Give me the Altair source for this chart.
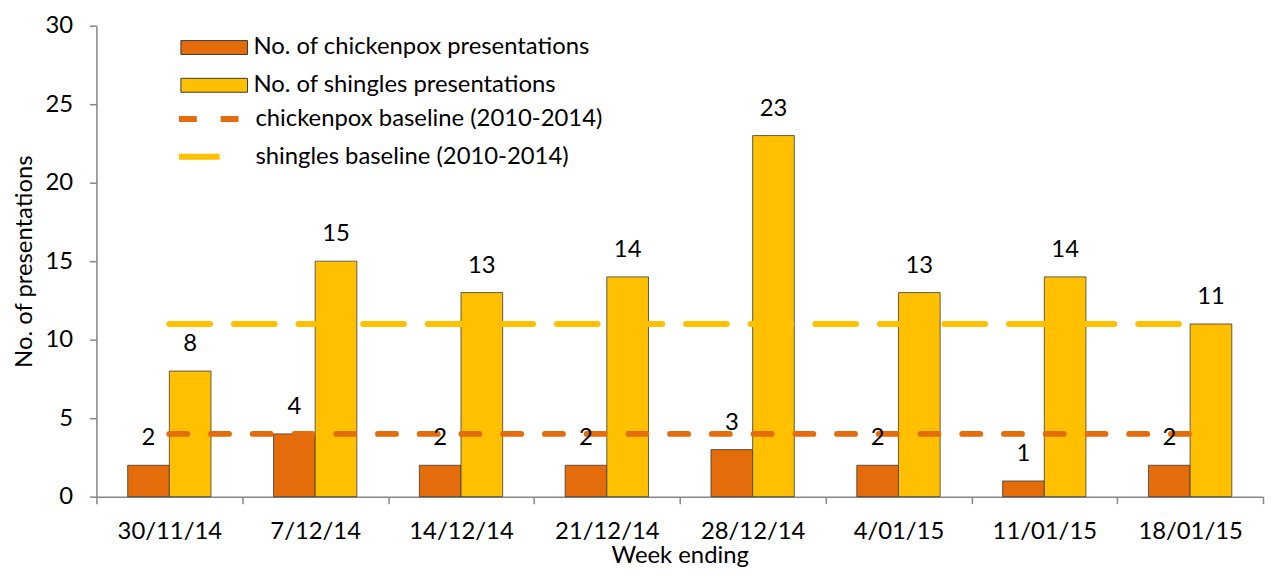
import altair as alt
import pandas as pd

weeks = ["30/11/14", "7/12/14", "14/12/14", "21/12/14", "28/12/14", "4/01/15", "11/01/15", "18/01/15"]
chickenpox = [2, 4, 2, 2, 3, 2, 1, 2]
shingles = [8, 15, 13, 14, 23, 13, 14, 11]
chickenpox_baseline = [4, 4, 4, 4, 4, 4, 4, 4]
shingles_baseline = [11, 11, 11, 11, 11, 11, 11, 11]

bar_series = ["No. of chickenpox presentations", "No. of shingles presentations"]
line_series = ["chickenpox baseline (2010-2014)", "shingles baseline (2010-2014)"]
y_ticks = [0, 5, 10, 15, 20, 25, 30]

ORANGE = "#E46C0A"
YELLOW = "#FFC000"
FONT = "Lato"
FS = 24

bar_rows = []
for w, c, s in zip(weeks, chickenpox, shingles):
    bar_rows.append({"week": w, "measure": bar_series[0], "value": c})
    bar_rows.append({"week": w, "measure": bar_series[1], "value": s})
bar_df = pd.DataFrame(bar_rows)

line_rows = []
for w, c, s in zip(weeks, chickenpox_baseline, shingles_baseline):
    line_rows.append({"week": w, "baseline": line_series[0], "value": c})
    line_rows.append({"week": w, "baseline": line_series[1], "value": s})
line_df = pd.DataFrame(line_rows)

x_enc = alt.X(
    "week:N",
    sort=weeks,
    title="Week ending",
    scale=alt.Scale(paddingInner=0, paddingOuter=0),
    axis=alt.Axis(
        labelAngle=0,
        tickBand="extent",
        tickSize=7,
        labelPadding=16,
        titlePadding=0,
        domainColor="#868686",
        tickColor="#868686",
        domainWidth=1.5,
        tickWidth=1.5,
    ),
)
y_enc = alt.Y(
    "value:Q",
    title="No. of presentations",
    scale=alt.Scale(domain=[0, 30], nice=False),
    axis=alt.Axis(
        values=y_ticks,
        grid=False,
        tickSize=7,
        labelPadding=17,
        titlePadding=9,
        domainColor="#868686",
        tickColor="#868686",
        domainWidth=1.5,
        tickWidth=1.5,
    ),
)
xoff = alt.XOffset(
    "measure:N",
    sort=bar_series,
    scale=alt.Scale(paddingInner=0, paddingOuter=0.75),
)

bar_legend = alt.Legend(
    title=None,
    orient="none",
    legendX=106.5,
    legendY=10,
    symbolType="M-4.786,-1H4.786V1H-4.786Z",
    symbolSize=196,
    symbolStrokeColor="#3a3a3a",
    symbolStrokeWidth=1,
    labelFontSize=FS,
    labelFont=FONT,
    labelColor="black",
    labelLimit=0,
    labelOffset=27.5,
    rowPadding=14,
    padding=0,
)
line_legend = alt.Legend(
    title=None,
    orient="none",
    legendX=103.5,
    legendY=82,
    symbolType="M-4.643,0H4.643",
    symbolSize=196,
    symbolStrokeWidth=6,
    labelFontSize=FS,
    labelFont=FONT,
    labelColor="black",
    labelLimit=0,
    labelOffset=32.5,
    rowPadding=14,
    padding=0,
)

bars = alt.Chart(bar_df).mark_bar(stroke="#3a3a3a", strokeWidth=0.8).encode(
    x=x_enc,
    xOffset=xoff,
    y=y_enc,
    fill=alt.Fill(
        "measure:N",
        sort=bar_series,
        scale=alt.Scale(domain=bar_series, range=[ORANGE, YELLOW]),
        legend=bar_legend,
    ),
)

labels = alt.Chart(bar_df).mark_text(
    baseline="middle", dy=-27, fontSize=FS, font=FONT, color="black"
).encode(
    x=x_enc,
    xOffset=xoff,
    y=y_enc,
    text="value:Q",
)

lines = alt.Chart(line_df).mark_line(strokeWidth=6, strokeCap="round").encode(
    x=x_enc,
    y=y_enc,
    stroke=alt.Stroke(
        "baseline:N",
        sort=line_series,
        scale=alt.Scale(domain=line_series, range=[ORANGE, YELLOW]),
        legend=line_legend,
    ),
    strokeDash=alt.StrokeDash(
        "baseline:N",
        sort=line_series,
        scale=alt.Scale(domain=line_series, range=[[18, 24], [41, 24]]),
        legend=line_legend,
    ),
)

chart = (
    alt.layer(bars, lines, labels)
    .properties(
        width=1174,
        height=474,
        autosize=alt.AutoSizeParams(type="none"),
        padding={"left": 89, "top": 16, "right": 5, "bottom": 72},
    )
    .configure(font=FONT)
    .configure_view(stroke=None)
    .configure_axis(
        labelFontSize=FS,
        labelFont=FONT,
        labelColor="black",
        titleFontSize=FS,
        titleFont=FONT,
        titleFontWeight="normal",
        titleColor="black",
    )
)

chart.save("out.html", embed_options={"renderer": "svg", "actions": False})
